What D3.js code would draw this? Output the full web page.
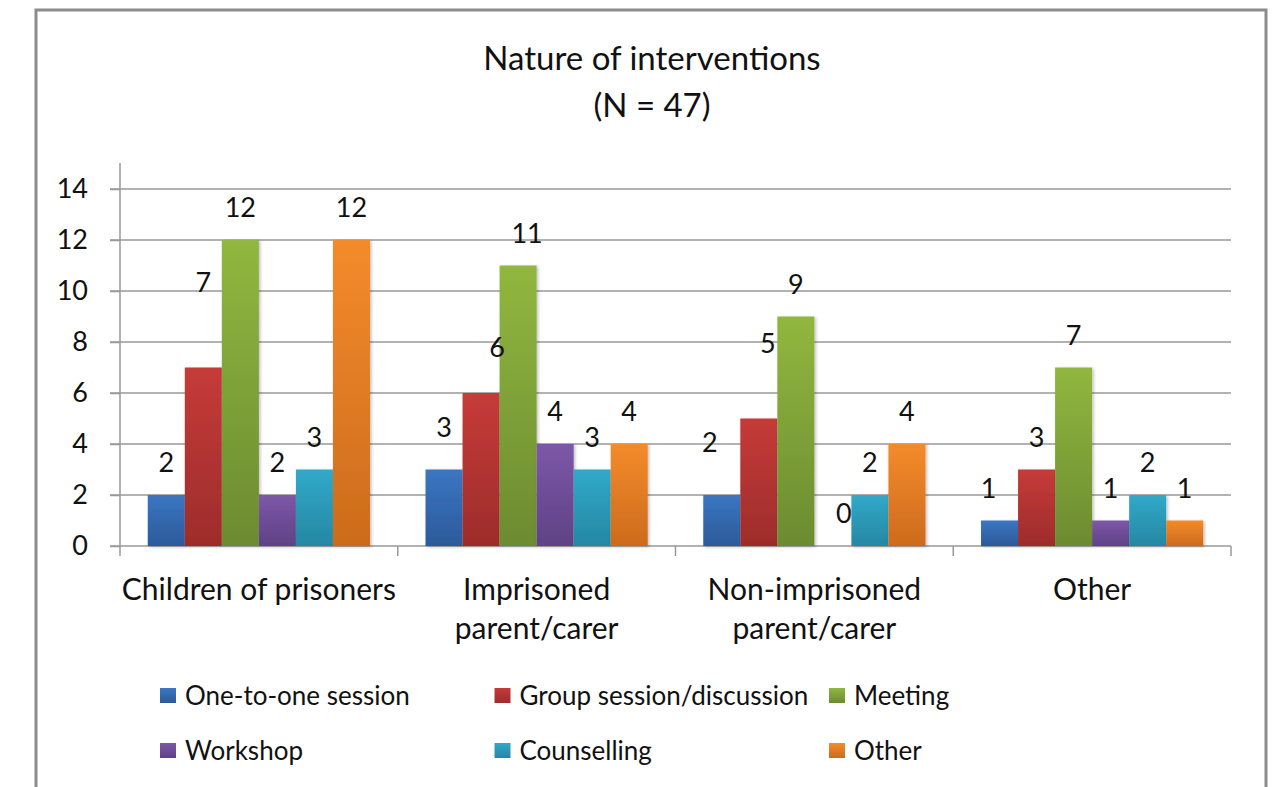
<!DOCTYPE html>
<html>
<head>
<meta charset="utf-8">
<script src="https://cdn.jsdelivr.net/npm/d3@7"></script>
<style>
  body { margin: 0; background: #fff; }
  text { font-family: Lato, "Open Sans", sans-serif; fill: #111; }
</style>
</head>
<body>
<script>
// data
var categories = ["Children of prisoners", "Imprisoned parent/carer", "Non-imprisoned parent/carer", "Other"];
var categoryLines = [["Children of prisoners"], ["Imprisoned", "parent/carer"], ["Non-imprisoned", "parent/carer"], ["Other"]];
var seriesNames = ["One-to-one session", "Group session/discussion", "Meeting", "Workshop", "Counselling", "Other"];
var oneToOne = [2, 3, 2, 1];
var groupSession = [7, 6, 5, 3];
var meeting = [12, 11, 9, 7];
var workshop = [2, 4, 0, 1];
var counselling = [3, 3, 2, 2];
var otherSeries = [12, 4, 4, 1];
var yTicks = [0, 2, 4, 6, 8, 10, 12, 14];

var seriesValues = [oneToOne, groupSession, meeting, workshop, counselling, otherSeries];
var colTop = ["#3b76c2", "#c63b39", "#91b73f", "#7d57a8", "#31a9c9", "#f48b2b"];
var colBot = ["#2c5a9a", "#9d2c2b", "#6c8b31", "#5f4286", "#2687a3", "#cc6b1d"];

var W = 1272, H = 787;
var plot = { l: 120, r: 1231, t: 163, b: 546 };

var svg = d3.select("body").append("svg")
    .attr("width", W)
    .attr("height", H);

var defs = svg.append("defs");
seriesNames.forEach(function (s, i) {
    var lg = defs.append("linearGradient")
        .attr("id", "grad" + i)
        .attr("x1", 0).attr("y1", 0).attr("x2", 0).attr("y2", 1);
    lg.append("stop").attr("offset", "0%").attr("stop-color", colTop[i]);
    lg.append("stop").attr("offset", "100%").attr("stop-color", colBot[i]);
});
var shadow = defs.append("filter").attr("id", "shadow")
    .attr("x", "-20%").attr("y", "-5%").attr("width", "140%").attr("height", "110%");
shadow.append("feDropShadow")
    .attr("dx", 1.5).attr("dy", 1).attr("stdDeviation", 1.5)
    .attr("flood-color", "#000").attr("flood-opacity", 0.25);

// chart border
svg.append("rect")
    .attr("x", 36).attr("y", 10)
    .attr("width", 1230).attr("height", 800)
    .attr("fill", "#fff")
    .attr("stroke", "#8c8c8c")
    .attr("stroke-width", 3);

// title
svg.append("text")
    .attr("x", 652).attr("y", 70)
    .attr("text-anchor", "middle")
    .style("font-size", "33px")
    .text("Nature of interventions");
svg.append("text")
    .attr("x", 652).attr("y", 117)
    .attr("text-anchor", "middle")
    .style("font-size", "33px")
    .text("(N = 47)");

var y = d3.scaleLinear().domain([0, 14]).range([plot.b, 189]);
var x0 = d3.scaleBand().domain(categories).range([plot.l, plot.r])
    .paddingInner(0.2).paddingOuter(0.1);
var x1 = d3.scaleBand().domain(seriesNames).range([0, x0.bandwidth()]);

// gridlines
svg.append("g")
    .selectAll("line")
    .data(yTicks)
    .enter()
    .append("line")
    .attr("x1", plot.l - 10)
    .attr("x2", plot.r)
    .attr("y1", function (d) { return y(d); })
    .attr("y2", function (d) { return y(d); })
    .style("stroke", "#999")
    .style("stroke-width", 1.5);

// y axis
var yAxis = svg.append("g")
    .attr("transform", "translate(" + plot.l + ",0)")
    .call(d3.axisLeft(y).tickValues(yTicks).tickSize(10).tickPadding(22));
yAxis.select(".domain").remove();
yAxis.selectAll(".tick line").style("stroke", "#999").style("stroke-width", 1.5);
yAxis.selectAll(".tick text")
    .style("font-size", "27px")
    .style("font-family", "Lato, sans-serif")
    .attr("fill", "#111");
svg.append("line")
    .attr("x1", plot.l).attr("x2", plot.l)
    .attr("y1", plot.t).attr("y2", plot.b)
    .style("stroke", "#999").style("stroke-width", 1.5);

// x axis ticks at group boundaries
var bounds = categories.map(function (c) { return x0(c) - x0.step() * x0.paddingOuter(); });
bounds.push(plot.r);
svg.append("g")
    .selectAll("line")
    .data(bounds)
    .enter()
    .append("line")
    .attr("x1", function (d) { return d; })
    .attr("x2", function (d) { return d; })
    .attr("y1", plot.b)
    .attr("y2", plot.b + 10)
    .style("stroke", "#999")
    .style("stroke-width", 1.5);

// category labels
categories.forEach(function (c, ci) {
    var t = svg.append("text")
        .attr("x", x0(c) + x0.bandwidth() / 2)
        .attr("y", 600)
        .attr("text-anchor", "middle")
        .style("font-size", "30px");
    categoryLines[ci].forEach(function (ln, li) {
        t.append("tspan")
            .attr("x", x0(c) + x0.bandwidth() / 2)
            .attr("dy", li === 0 ? 0 : 39)
            .text(ln);
    });
});

// bars
var rows = [];
categories.forEach(function (c, ci) {
    seriesNames.forEach(function (s, si) {
        rows.push({ cat: c, ci: ci, s: s, si: si, v: seriesValues[si][ci] });
    });
});

svg.append("g")
    .selectAll("rect")
    .data(rows)
    .enter()
    .append("rect")
    .attr("x", function (d) { return x0(d.cat) + x1(d.s); })
    .attr("y", function (d) { return y(d.v); })
    .attr("width", x1.bandwidth())
    .attr("height", function (d) { return y(0) - y(d.v); })
    .attr("fill", function (d) { return "url(#grad" + d.si + ")"; })
    .attr("filter", "url(#shadow)");

// data labels (a few were dragged by hand in the original)
var nudge = {
    "0,1": [0, -53], "1,0": [0, -10], "1,1": [16, -13], "1,2": [9, 0],
    "2,0": [-12, -20], "2,1": [9, -43], "2,3": [11, 0], "3,0": [-11, 0]
};
svg.append("g")
    .selectAll("text")
    .data(rows)
    .enter()
    .append("text")
    .attr("x", function (d) {
        var n = nudge[d.ci + "," + d.si] || [0, 0];
        return x0(d.cat) + x1(d.s) + x1.bandwidth() / 2 + n[0];
    })
    .attr("y", function (d) {
        var n = nudge[d.ci + "," + d.si] || [0, 0];
        return y(d.v) - 23 + n[1];
    })
    .attr("text-anchor", "middle")
    .style("font-size", "27px")
    .text(function (d) { return d.v; });

// legend
var legend = svg.append("g");
seriesNames.forEach(function (s, i) {
    var col = i % 3, row = Math.floor(i / 3);
    var lx = 160 + col * 334.5, ly = 705 + row * 55;
    legend.append("rect")
        .attr("x", lx).attr("y", ly - 17)
        .attr("width", 16).attr("height", 15)
        .attr("fill", "url(#grad" + i + ")");
    legend.append("text")
        .attr("x", lx + 25).attr("y", ly)
        .style("font-size", "26px")
        .text(s);
});
</script>
</body>
</html>
